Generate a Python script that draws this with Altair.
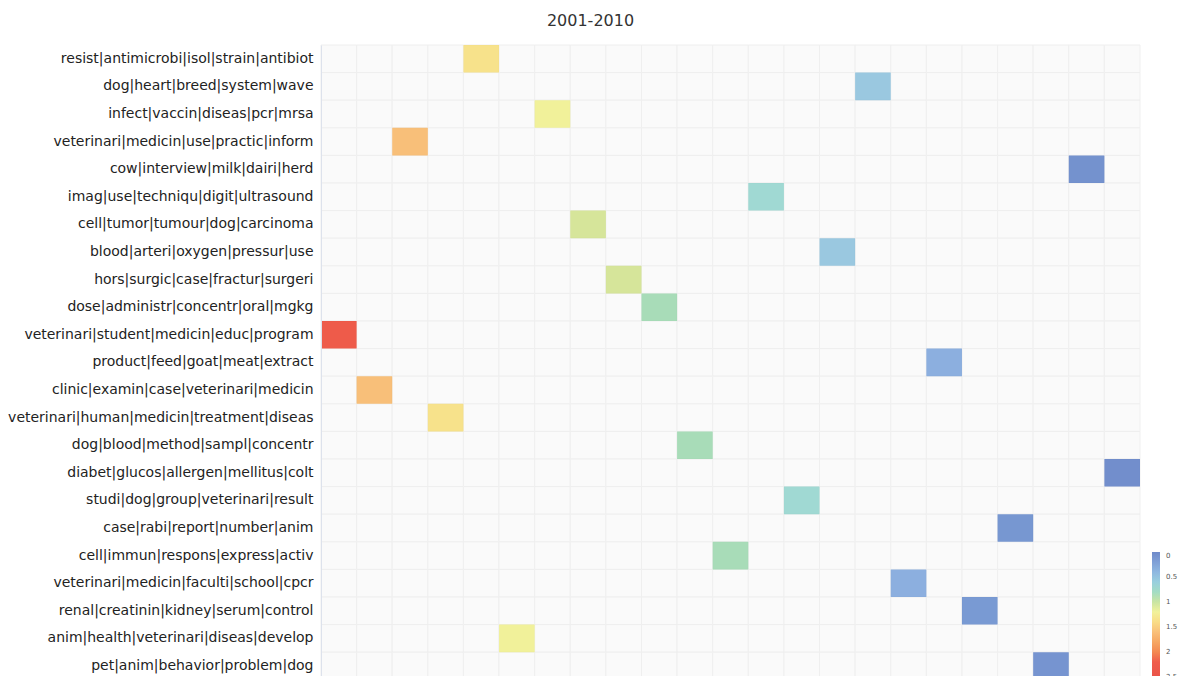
import altair as alt
import pandas as pd

topics = [
    "resist|antimicrobi|isol|strain|antibiot",
    "dog|heart|breed|system|wave",
    "infect|vaccin|diseas|pcr|mrsa",
    "veterinari|medicin|use|practic|inform",
    "cow|interview|milk|dairi|herd",
    "imag|use|techniqu|digit|ultrasound",
    "cell|tumor|tumour|dog|carcinoma",
    "blood|arteri|oxygen|pressur|use",
    "hors|surgic|case|fractur|surgeri",
    "dose|administr|concentr|oral|mgkg",
    "veterinari|student|medicin|educ|program",
    "product|feed|goat|meat|extract",
    "clinic|examin|case|veterinari|medicin",
    "veterinari|human|medicin|treatment|diseas",
    "dog|blood|method|sampl|concentr",
    "diabet|glucos|allergen|mellitus|colt",
    "studi|dog|group|veterinari|result",
    "case|rabi|report|number|anim",
    "cell|immun|respons|express|activ",
    "veterinari|medicin|faculti|school|cpcr",
    "renal|creatinin|kidney|serum|control",
    "anim|health|veterinari|diseas|develop",
    "pet|anim|behavior|problem|dog",
]
# column (1..23) where each topic has its cell
topic_cols = [5, 16, 7, 3, 22, 13, 8, 15, 9, 10, 1, 18, 2, 4, 11, 23, 14, 20, 12, 17, 19, 6, 21]
# value per column
col_values = [2.2, 1.6, 1.6, 1.35, 1.35, 1.2, 1.2, 1.05, 1.05, 0.85, 0.85, 0.85,
              0.7, 0.7, 0.55, 0.55, 0.35, 0.35, 0.15, 0.12, 0.1, 0.08, 0.05]
columns = [str(i) for i in range(1, 24)]

cells = pd.DataFrame({
    "topic": topics,
    "col": [str(c) for c in topic_cols],
    "value": [col_values[c - 1] for c in topic_cols],
})
grid = pd.DataFrame([{"topic": t, "col": c} for t in topics for c in columns])

color_domain = [0, 0.35, 0.55, 0.7, 0.85, 1.05, 1.2, 1.35, 1.6, 2.2, 2.8]
color_range = ["#3f63b8", "#6796d5", "#7ab7d7", "#81cdc6", "#8cd2a2", "#cade7a",
               "#eded7a", "#f6da65", "#f7ab4d", "#ea250f", "#dc0a0a"]
legend_ticks = [0, 0.5, 1, 1.5, 2, 2.5]

# vertical gradient legends put the maximum at the top, so colour by the negated value
neg_domain = [-d for d in reversed(color_domain)]
neg_range = list(reversed(color_range))

W = 819
H = 23 * 27.6

x_enc = alt.X("col:N", sort=columns, axis=None, scale=alt.Scale(paddingInner=0, paddingOuter=0))
y_enc = alt.Y("topic:N", sort=topics, title=None,
              scale=alt.Scale(paddingInner=0, paddingOuter=0),
              axis=alt.Axis(labelFont="DejaVu Sans", labelFontSize=14, labelColor="#222222",
                            labelPadding=8, ticks=False, domain=True, domainColor="#dde2ec",
                            labelLimit=400))

bg = alt.Chart(grid).mark_rect(fill="#fafafa", stroke="#efefef", strokeWidth=1).encode(
    x=x_enc, y=y_enc)

hm = alt.Chart(cells).transform_calculate(neg="-datum.value").mark_rect(opacity=0.75).encode(
    x=x_enc, y=y_enc,
    color=alt.Color("neg:Q", title=None,
                    scale=alt.Scale(domain=neg_domain, range=neg_range),
                    legend=alt.Legend(orient="none", legendX=831, legendY=507,
                                      direction="vertical", gradientLength=140,
                                      gradientThickness=8,
                                      values=[-v for v in legend_ticks],
                                      labelExpr="format(abs(datum.value), '~g')",
                                      labelFontSize=7, labelColor="#555555", labelOffset=6,
                                      labelFont="DejaVu Sans", gradientStrokeWidth=0)),
)

chart = alt.layer(bg, hm).properties(
    width=W, height=H,
    title=alt.TitleParams("2001-2010", font="DejaVu Sans", fontSize=16, fontWeight="normal",
                          color="#333333", anchor="middle", offset=15, dx=-140),
    autosize=alt.AutoSizeParams(type="none"),
    padding={"left": 321, "top": 45, "right": 43, "bottom": 0},
).configure_view(stroke=None)

chart.save("out.html", embed_options={"renderer": "svg", "actions": False})
